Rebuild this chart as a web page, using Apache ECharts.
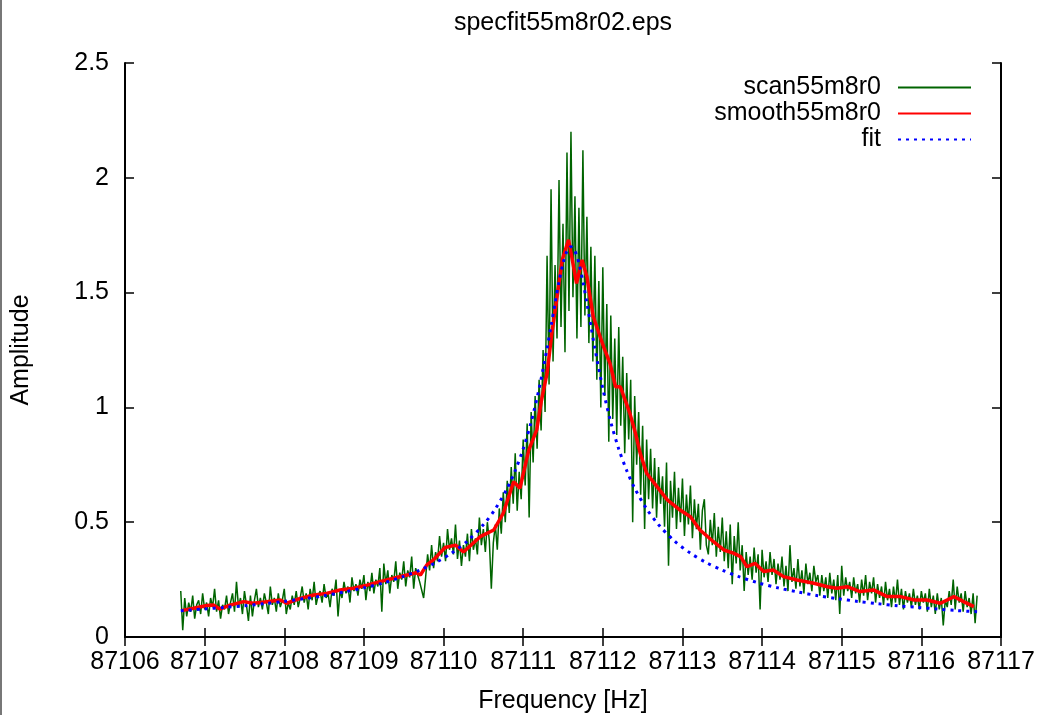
<!DOCTYPE html>
<html>
<head>
<meta charset="utf-8">
<script src="https://cdn.jsdelivr.net/npm/echarts@6/dist/echarts.min.js"></script>
<style>
html,body{margin:0;padding:0;background:#fff;}
#chart{width:1044px;height:715px;}
</style>
</head>
<body>
<div id="chart"></div>
<script>
// ---- data ----
const xTicks = [87106, 87107, 87108, 87109, 87110, 87111, 87112, 87113, 87114, 87115, 87116, 87117];
const yTicks = [0, 0.5, 1, 1.5, 2, 2.5];

// raw scan: sampled every 0.025 Hz starting at 87106.70
const scanStart = 87106.70;
const scanStep = 0.025;
const scanAmp = [
0.20,0.03,0.17,0.09,0.15,0.11,0.18,0.08,0.14,0.16,
0.10,0.19,0.12,0.15,0.09,0.17,0.13,0.21,0.11,0.16,
0.08,0.14,0.12,0.18,0.10,0.15,0.19,0.11,0.24,0.13,
0.17,0.10,0.20,0.14,0.07,0.18,0.09,0.16,0.21,0.13,
0.17,
0.12,0.19,0.15,0.10,0.22,0.14,0.17,0.11,0.19,0.13,
0.16,0.21,0.10,0.15,0.12,0.18,0.14,0.20,0.13,0.17,
0.22,0.15,0.19,0.12,0.21,0.16,0.24,0.14,0.18,0.20,
0.15,0.23,0.17,0.19,0.13,0.21,0.18,0.25,0.09,0.20,
0.17,0.24,0.19,0.22,0.15,0.26,0.20,0.23,0.18,0.25,
0.21,0.27,0.16,0.24,0.20,0.28,0.19,0.25,0.22,0.30,
0.11,0.32,0.23,0.29,0.19,0.27,0.24,0.33,0.21,0.28,
0.25,0.33,0.22,0.29,0.26,0.35,0.21,0.30,0.27,0.24,
0.24,0.17,0.26,0.36,0.29,0.40,0.30,0.37,0.33,0.44,
0.35,0.41,0.33,0.47,0.38,0.43,0.36,0.49,0.34,0.42,
0.31,0.40,0.35,0.45,0.33,0.47,0.38,0.43,0.36,0.52,
0.40,0.47,0.37,0.50,0.42,0.21,0.41,0.49,0.38,0.56,
0.45,0.63,0.50,0.68,0.54,0.74,0.58,0.80,0.55,0.72,
0.60,0.86,0.66,0.93,0.52,0.98,0.76,1.05,0.82,1.12,
0.90,1.25,0.98,1.66,1.10,1.95,1.20,1.62,1.30,1.99,
1.35,1.80,1.24,2.11,1.42,2.20,1.48,1.92,1.30,1.87,
1.35,2.12,1.40,1.83,1.28,1.70,1.20,1.66,1.12,1.55,
1.00,1.61,1.05,1.45,0.85,1.40,0.95,1.30,0.88,1.35,
0.92,1.22,0.80,1.15,0.86,1.12,0.50,1.05,0.75,0.98,
0.62,0.92,0.47,0.86,0.60,0.82,0.56,0.78,0.52,0.74,
0.58,0.70,0.48,0.76,0.31,0.68,0.52,0.72,0.47,0.65,
0.50,0.69,0.44,0.62,0.49,0.66,0.43,0.60,0.47,0.58,
0.38,0.55,0.60,0.40,0.36,0.51,0.40,0.54,0.35,0.48,
0.37,0.52,0.33,0.46,0.30,0.49,0.23,0.44,0.32,0.50,
0.29,0.40,0.20,0.37,0.27,0.35,0.25,0.39,0.28,0.36,
0.12,0.38,0.26,0.33,0.24,0.37,0.27,0.34,0.23,0.32,
0.25,0.35,0.22,0.31,0.20,0.40,0.24,0.30,0.21,0.34,
0.22,0.29,0.19,0.32,0.23,0.28,0.20,0.31,0.24,0.27,
0.18,0.27,0.20,0.26,0.17,0.28,0.19,0.25,0.16,0.27,
0.10,0.31,0.18,0.26,0.20,0.24,0.17,0.26,0.19,0.23,
0.15,0.25,0.18,0.27,0.16,0.24,0.19,0.26,0.15,0.23,
0.17,0.22,0.14,0.24,0.16,0.21,0.13,0.22,0.15,0.25,
0.14,0.21,0.12,0.20,0.15,0.19,0.13,0.21,0.14,0.18,
0.12,0.20,0.15,0.19,0.11,0.21,0.13,0.18,0.10,0.19,
0.12,0.17,0.05,0.16,0.13,0.20,0.14,0.25,0.12,0.22,
0.15,0.19,0.11,0.20,0.13,0.17,0.10,0.19,0.06,0.18
];

// smoothed curve
const smoothFreq = [
87106.71,87106.86,87107.03,87107.11,87107.19,87107.32,87107.49,87107.61,87107.78,87107.95,
87108.03,87108.20,87108.37,87108.53,87108.70,87108.87,87109.04,87109.20,87109.37,87109.54,
87109.66,87109.71,87109.79,87109.87,87110.02,87110.15,87110.25,87110.46,87110.63,87110.75,
87110.88,87110.96,87111.07,87111.17,87111.23,87111.30,87111.36,87111.42,87111.49,87111.57,
87111.61,87111.67,87111.74,87111.80,87111.88,87112.01,87112.09,87112.16,87112.22,87112.34,
87112.41,87112.47,87112.55,87112.68,87112.81,87112.97,87113.10,87113.22,87113.39,87113.52,
87113.64,87113.73,87113.81,87113.91,87114.02,87114.14,87114.27,87114.44,87114.65,87114.82,
87114.94,87115.07,87115.23,87115.40,87115.57,87115.74,87115.91,87116.07,87116.24,87116.41,
87116.53,87116.66
];
const smoothAmp = [
0.115,0.125,0.137,0.139,0.122,0.139,0.154,0.147,0.154,0.161,
0.147,0.168,0.183,0.190,0.205,0.212,0.226,0.241,0.256,0.270,
0.280,0.270,0.314,0.335,0.390,0.400,0.370,0.437,0.466,0.539,
0.676,0.648,0.814,0.902,1.032,1.149,1.323,1.468,1.642,1.730,
1.656,1.540,1.642,1.569,1.395,1.264,1.192,1.090,1.090,0.974,
0.887,0.800,0.713,0.655,0.597,0.553,0.524,0.466,0.415,0.379,
0.365,0.350,0.306,0.321,0.285,0.292,0.263,0.248,0.234,0.219,
0.212,0.219,0.198,0.205,0.176,0.176,0.161,0.161,0.147,0.176,
0.154,0.132
];

// fitted curve
const fitFreq = [
87106.7,87107.0,87107.25,87107.5,87107.75,87108.0,87108.25,87108.5,87108.75,87109.0,
87109.25,87109.5,87109.7,87109.9,87110.1,87110.3,87110.5,87110.65,87110.8,87110.9,
87111.0,87111.1,87111.2,87111.3,87111.35,87111.4,87111.45,87111.5,87111.55,87111.6,
87111.65,87111.7,87111.75,87111.8,87111.85,87111.9,87112.0,87112.1,87112.2,87112.3,
87112.4,87112.55,87112.7,87112.9,87113.1,87113.3,87113.5,87113.7,87113.95,87114.2,
87114.45,87114.7,87114.95,87115.2,87115.45,87115.7,87115.95,87116.2,87116.45,87116.7
];
const fitAmp = [
0.114,0.122,0.129,0.136,0.145,0.155,0.167,0.180,0.196,0.214,
0.236,0.264,0.291,0.324,0.365,0.418,0.489,0.558,0.648,0.725,
0.819,0.936,1.082,1.258,1.355,1.454,1.548,1.627,1.681,1.700,
1.681,1.627,1.548,1.454,1.355,1.258,1.082,0.936,0.819,0.725,
0.648,0.558,0.489,0.418,0.365,0.324,0.291,0.264,0.236,0.214,
0.196,0.180,0.167,0.155,0.145,0.136,0.129,0.122,0.115,0.110
];

// ---- build chart ----
const scanData = scanAmp.map((v, i) => [scanStart + i * scanStep, v]);
const smoothData = smoothFreq.map((f, i) => [f, smoothAmp[i]]);
const fitData = fitFreq.map((f, i) => [f, fitAmp[i]]);

const FONT = 'Liberation Sans';
const FS = 25;
const axisLineStyle = {color: '#000', width: 2};
const tickStyle = {color: '#000', width: 1.5};

const chart = echarts.init(document.getElementById('chart'), null, {renderer: 'canvas'});
chart.setOption({
  animation: false,
  backgroundColor: '#fff',
  grid: {left: 125, right: 43, top: 63, bottom: 78},
  legend: {
    orient: 'vertical',
    align: 'right',
    right: 72,
    top: 75,
    padding: 0,
    itemWidth: 73,
    itemHeight: 14,
    itemGap: 1,
    itemStyle: {opacity: 0},
    textStyle: {fontFamily: FONT, fontSize: FS, color: '#000', lineHeight: 25, padding: [0, 12, 0, 0]},
    data: ['scan55m8r0', 'smooth55m8r0', 'fit']
  },
  xAxis: [{
    type: 'value', position: 'bottom',
    min: xTicks[0], max: xTicks[xTicks.length - 1], interval: 1,
    axisLine: {show: true, lineStyle: axisLineStyle},
    axisTick: {show: true, inside: true, length: 9, lineStyle: tickStyle},
    axisLabel: {fontFamily: FONT, fontSize: FS, color: '#000', margin: 13, formatter: v => String(v)},
    splitLine: {show: false}
  }, {
    type: 'value', position: 'top',
    min: xTicks[0], max: xTicks[xTicks.length - 1], interval: 1,
    axisLine: {show: true, lineStyle: axisLineStyle},
    axisTick: {show: true, inside: true, length: 9, lineStyle: tickStyle},
    axisLabel: {show: false},
    splitLine: {show: false}
  }],
  yAxis: [{
    type: 'value', position: 'left',
    min: yTicks[0], max: yTicks[yTicks.length - 1], interval: 0.5,
    axisLine: {show: true, lineStyle: axisLineStyle},
    axisTick: {show: true, inside: true, length: 9, lineStyle: tickStyle},
    axisLabel: {fontFamily: FONT, fontSize: FS, color: '#000', margin: 16},
    splitLine: {show: false}
  }, {
    type: 'value', position: 'right',
    min: yTicks[0], max: yTicks[yTicks.length - 1], interval: 0.5,
    axisLine: {show: true, lineStyle: axisLineStyle},
    axisTick: {show: true, inside: true, length: 9, lineStyle: tickStyle},
    axisLabel: {show: false},
    splitLine: {show: false}
  }],
  graphic: [
    {type: 'line', silent: true, shape: {x1: 1, y1: 0, x2: 1, y2: 715}, style: {stroke: '#777', lineWidth: 2}},
    {type: 'text', silent: true, x: 563, y: 23, style: {text: 'specfit55m8r02.eps', font: '25px "Liberation Sans"', fill: '#000', textAlign: 'center', textVerticalAlign: 'middle'}},
    {type: 'text', silent: true, x: 563, y: 701, style: {text: 'Frequency [Hz]', font: '25px "Liberation Sans"', fill: '#000', textAlign: 'center', textVerticalAlign: 'middle'}},
    {type: 'text', silent: true, x: 21, y: 350, rotation: Math.PI / 2, style: {text: 'Amplitude', font: '25px "Liberation Sans"', fill: '#000', textAlign: 'center', textVerticalAlign: 'middle'}}
  ],
  series: [{
    name: 'scan55m8r0', type: 'line', data: scanData, showSymbol: false, symbol: 'none',
    lineStyle: {color: '#006400', width: 1.5}, itemStyle: {color: '#006400'}
  }, {
    name: 'smooth55m8r0', type: 'line', data: smoothData, showSymbol: false, symbol: 'none',
    lineStyle: {color: '#ff0000', width: 3.5}, itemStyle: {color: '#ff0000'}
  }, {
    name: 'fit', type: 'line', data: fitData, showSymbol: false, symbol: 'none', smooth: 0.3,
    lineStyle: {color: '#0000ff', width: 3, type: [3, 5]}, itemStyle: {color: '#0000ff'}
  }]
});
</script>
</body>
</html>
